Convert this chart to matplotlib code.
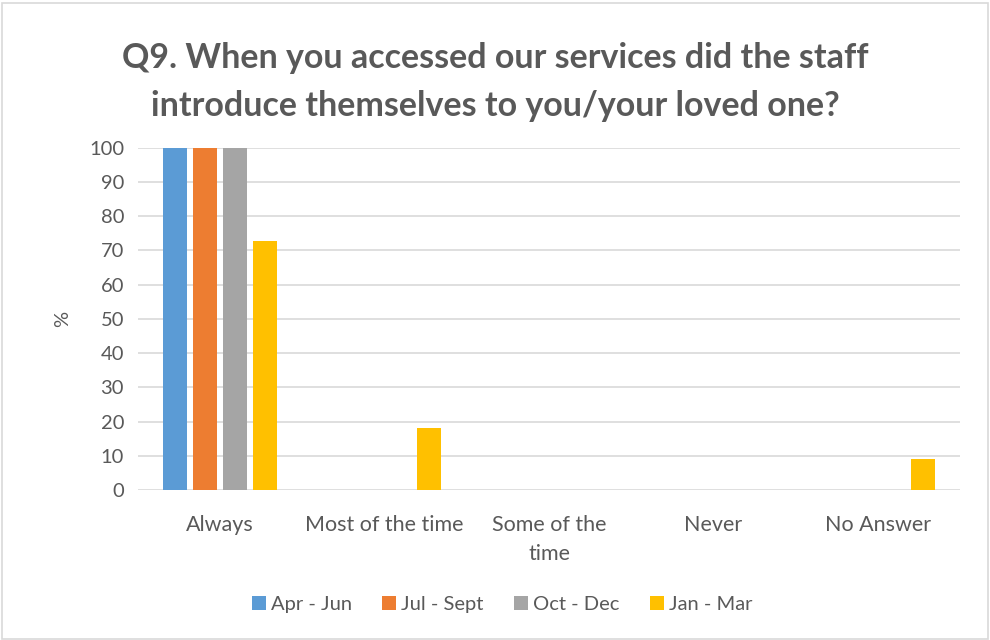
import matplotlib.pyplot as plt
import numpy as np

plt.rcParams['font.family'] = ['Lato', 'DejaVu Sans']

categories = ["Always", "Most of the time", "Some of the\ntime", "Never", "No Answer"]
series_names = ["Apr - Jun", "Jul - Sept", "Oct - Dec", "Jan - Mar"]
apr_jun = [100, 0, 0, 0, 0]
jul_sept = [100, 0, 0, 0, 0]
oct_dec = [100, 0, 0, 0, 0]
jan_mar = [72.7, 18.2, 0, 0, 9.1]
colors = ["#5b9bd5", "#ed7d31", "#a5a5a5", "#ffc000"]

text_color = "#595959"

fig = plt.figure(figsize=(9.9, 6.4), dpi=100)
ax = fig.add_axes([0.1394, 0.2344, 0.8303, 0.5346])

x = np.arange(len(categories))
width = 0.146
step = 0.182
for i, (vals, name) in enumerate(zip([apr_jun, jul_sept, oct_dec, jan_mar], series_names)):
    ax.bar(x + (i - 1.5) * step, vals, width, color=colors[i], label=name, zorder=3)

ax.set_xlim(-0.5, len(categories) - 0.5)
ax.set_ylim(0, 100)
ax.set_yticks(range(0, 101, 10))
ax.grid(axis='y', color='#d9d9d9', linewidth=1.2, zorder=0)
for s in ax.spines.values():
    s.set_visible(False)
ax.tick_params(axis='y', length=0, labelsize=14.5, colors=text_color, pad=10)
ax.tick_params(axis='x', length=0, labelsize=15.5, colors=text_color, pad=18)
ax.set_xticks(x)
ax.set_xticklabels(categories, linespacing=1.55)
ax.set_ylabel("%", fontsize=14.5, color=text_color, labelpad=13)

fig.text(0.5, 0.872, "Q9. When you accessed our services did the staff\nintroduce themselves to you/your loved one?",
         ha='center', va='center', fontsize=24.5, fontweight='bold', color=text_color, linespacing=1.6)

leg = fig.legend(loc='center', bbox_to_anchor=(0.507, 0.056), ncol=4, frameon=False,
                 fontsize=14.5, handlelength=0.7, handleheight=0.7, handletextpad=0.25,
                 columnspacing=1.5, labelcolor=text_color)

# thin frame around the whole chart
fig.patches.append(plt.Rectangle((0.002, 0.002), 0.996, 0.994, transform=fig.transFigure,
                                 fill=False, edgecolor='#d9d9d9', linewidth=1.2))

fig.savefig("out.png", dpi=100)
